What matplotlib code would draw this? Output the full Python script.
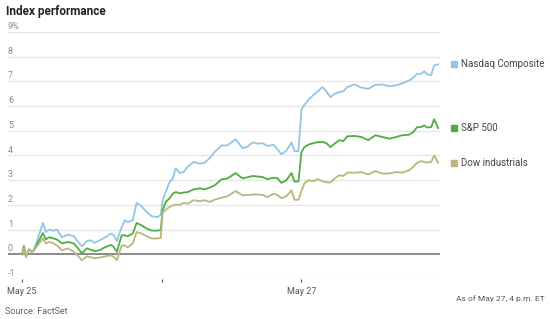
import numpy as np
import matplotlib.pyplot as plt
import matplotlib.transforms as mtransforms

plt.rcParams['font.family'] = ['Liberation Sans Narrow', 'Roboto', 'DejaVu Sans']

# time in trading days since May 25 open
t = [0.000, 0.014, 0.029, 0.050, 0.071, 0.086, 0.150, 0.171, 0.193, 0.221,
     0.250, 0.286, 0.329, 0.371, 0.393, 0.429, 0.464, 0.493, 0.521, 0.557,
     0.600, 0.636, 0.657, 0.679, 0.714, 0.736, 0.757, 0.793, 0.821, 0.857,
     0.893, 0.929, 0.971, 0.993,
     1.007, 1.029, 1.057, 1.079, 1.100, 1.129, 1.157, 1.186, 1.229, 1.271,
     1.307, 1.343, 1.379, 1.429, 1.471, 1.529, 1.579, 1.614, 1.650, 1.686,
     1.721, 1.757, 1.800, 1.829, 1.857, 1.893, 1.929, 1.950, 1.979,
     2.000, 2.021, 2.050, 2.086, 2.114, 2.150, 2.179, 2.207, 2.236, 2.271,
     2.300, 2.329, 2.379, 2.429, 2.479, 2.529, 2.579, 2.629, 2.679, 2.721,
     2.771, 2.800, 2.829, 2.857, 2.879, 2.900, 2.929, 2.950, 2.979]

nasdaq = [0.0, 0.36, -0.10, 0.20, 0.10, 0.17, 1.27, 0.90, 1.00, 0.95,
          1.00, 0.69, 0.80, 0.73, 0.57, 0.32, 0.53, 0.57, 0.46, 0.57,
          0.70, 0.84, 0.78, 0.53, 1.10, 1.38, 1.30, 1.38, 2.08, 1.93,
          1.71, 1.54, 1.51, 1.60,
          2.19, 2.52, 2.93, 3.07, 3.48, 3.29, 3.33, 3.54, 3.74, 3.67,
          3.70, 3.89, 4.14, 4.41, 4.41, 4.66, 4.29, 4.36, 4.53, 4.48,
          4.50, 4.39, 4.43, 4.25, 4.05, 4.20, 4.53, 4.18, 4.18,
          5.85, 6.05, 6.25, 6.45, 6.58, 6.77, 6.60, 6.36, 6.50, 6.57,
          6.60, 6.77, 6.88, 6.75, 6.70, 6.86, 6.88, 6.80, 6.84, 6.92,
          7.04, 7.15, 7.31, 7.31, 7.41, 7.29, 7.25, 7.65, 7.69]

sp500 = [0.0, 0.30, -0.10, 0.20, 0.10, 0.17, 0.86, 0.60, 0.69, 0.65,
         0.60, 0.44, 0.50, 0.44, 0.30, 0.04, 0.24, 0.18, 0.13, 0.17,
         0.30, 0.38, 0.30, 0.10, 0.77, 0.77, 0.73, 0.84, 1.27, 1.17,
         1.04, 0.96, 0.96, 0.98,
         1.78, 2.12, 2.27, 2.45, 2.52, 2.47, 2.50, 2.52, 2.63, 2.67,
         2.63, 2.70, 2.79, 3.04, 3.07, 3.29, 3.07, 3.12, 3.17, 3.15,
         3.13, 3.04, 3.10, 3.08, 2.89, 3.00, 3.29, 2.95, 2.95,
         4.12, 4.34, 4.44, 4.50, 4.54, 4.55, 4.50, 4.34, 4.47, 4.62,
         4.58, 4.78, 4.79, 4.75, 4.62, 4.82, 4.75, 4.68, 4.75, 4.82,
         4.84, 4.95, 5.15, 5.15, 5.22, 5.13, 5.15, 5.47, 5.11]

dow = [0.0, 0.25, -0.10, 0.20, 0.10, 0.17, 0.64, 0.44, 0.50, 0.46,
       0.36, 0.16, 0.24, 0.10, -0.02, -0.24, -0.08, -0.12, -0.16, -0.13,
       -0.08, -0.04, -0.10, -0.24, 0.36, 0.36, 0.28, 0.44, 0.90, 0.84,
       0.73, 0.64, 0.64, 0.66,
       1.70, 1.80, 1.92, 1.98, 2.01, 2.00, 2.08, 2.05, 2.19, 2.15,
       2.19, 2.12, 2.21, 2.29, 2.35, 2.56, 2.39, 2.40, 2.42, 2.42,
       2.41, 2.32, 2.45, 2.40, 2.27, 2.35, 2.59, 2.21, 2.21,
       2.55, 2.87, 3.00, 2.96, 3.04, 2.96, 2.92, 2.90, 3.06, 3.20,
       3.17, 3.31, 3.30, 3.33, 3.23, 3.37, 3.27, 3.27, 3.33, 3.31,
       3.40, 3.54, 3.71, 3.77, 3.74, 3.71, 3.74, 4.00, 3.71]

names = ['Nasdaq Composite', 'S&P 500', 'Dow industrials']
colors = ['#92c5e6', '#4eae3f', '#bcb57e']
yticks = [-1, 0, 1, 2, 3, 4, 5, 6, 7, 8, 9]
ytick_labels = ['-1', '0', '1', '2', '3', '4', '5', '6', '7', '8', '9%']
xticks = [0, 1, 2]
xtick_labels = ['May 25', '', 'May 27']

fig = plt.figure(figsize=(5.5, 3.19), dpi=100)
ax = fig.add_axes([0.0145, 0.1254, 0.785, 0.7743])

for yv in yticks:
    if yv == 0:
        continue
    ax.axhline(yv, color='#e6e6e6', lw=0.9, zorder=0)
ax.axhline(0, color='#8a8a8a', lw=1.4, zorder=1)

series = [nasdaq, sp500, dow]
for vals, c in zip(series, colors):
    ax.plot(t, vals, color=c, lw=1.3, zorder=3)

ax.set_xlim(-0.1, 2.99)
ax.set_ylim(-1, 9)
for s in ax.spines.values():
    s.set_visible(False)
ax.set_yticks([])
ax.set_xticks(xticks)
ax.set_xticklabels(xtick_labels, fontsize=6.5, color='#555555')
ax.tick_params(axis='x', length=2, width=0.8, color='#555555', pad=4)

trans = mtransforms.blended_transform_factory(ax.transAxes, ax.transData)
for yv, lab in zip(yticks, ytick_labels):
    ax.text(0.0, yv + 0.04, lab, transform=trans, fontsize=6.5,
            color='#8a8a8a', ha='left', va='bottom')

# legend labels at line ends
for vals, c, n in zip(series, colors, names):
    ax.plot([3.09], [vals[-1]], marker='s', ms=5, color=c, clip_on=False)
    ax.text(3.145, vals[-1], n, fontsize=7, color='#444444', va='center',
            ha='left', clip_on=False)

fig.text(0.011, 0.965, 'Index performance', fontsize=8.5, fontweight='bold',
         color='#222222', ha='left', va='center')
fig.text(0.99, 0.065, 'As of May 27, 4 p.m. ET', fontsize=6, color='#555555',
         ha='right', va='center')
fig.text(0.009, 0.025, 'Source: FactSet', fontsize=6.5, color='#666666',
         ha='left', va='center')

fig.savefig('out.png', dpi=100)
